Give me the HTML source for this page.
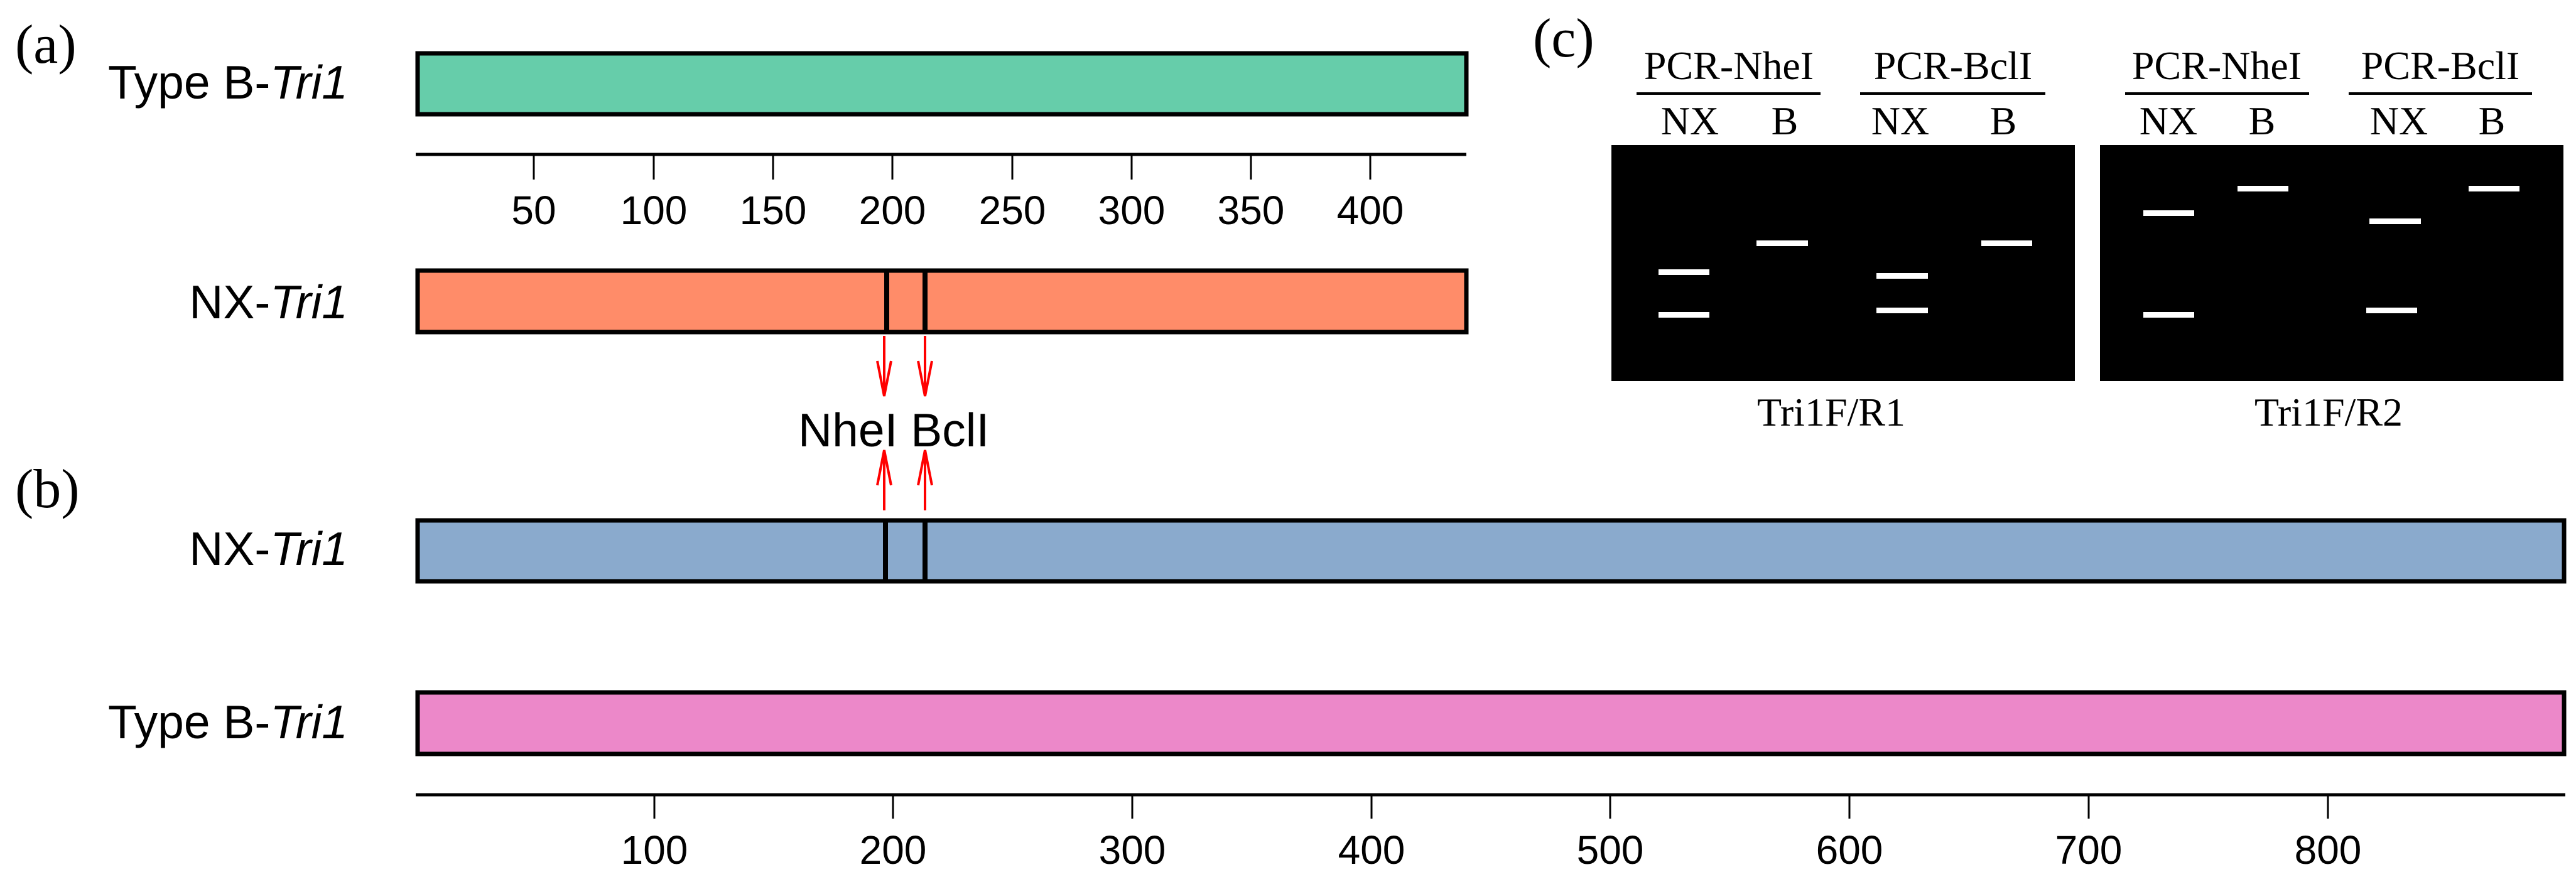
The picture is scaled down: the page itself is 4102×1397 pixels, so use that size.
<!DOCTYPE html>
<html><head><meta charset="utf-8"><style>html,body{margin:0;padding:0;background:#fff}svg{display:block}</style></head>
<body>
<svg width="4102" height="1397" viewBox="0 0 4102 1397" xmlns="http://www.w3.org/2000/svg">
<g font-family="Liberation Serif, serif" fill="#000">
<text x="24" y="100" font-size="88">(a)</text>
<text x="24" y="808" font-size="88">(b)</text>
<text x="2441" y="90" font-size="88">(c)</text>
</g>
<g font-family="Liberation Sans, sans-serif" font-size="75" text-anchor="end" fill="#000">
<text x="554" y="157">Type B-<tspan font-style="italic">Tri1</tspan></text>
<text x="554" y="507">NX-<tspan font-style="italic">Tri1</tspan></text>
<text x="554" y="900">NX-<tspan font-style="italic">Tri1</tspan></text>
<text x="554" y="1176">Type B-<tspan font-style="italic">Tri1</tspan></text>
</g>
<rect x="665" y="85" width="1670" height="97" fill="#66cdaa" stroke="#000" stroke-width="7"/>
<rect x="665" y="431" width="1670" height="98" fill="#ff8c69" stroke="#000" stroke-width="7"/>
<line x1="1412" y1="431" x2="1412" y2="529" stroke="#000" stroke-width="8"/>
<line x1="1473" y1="431" x2="1473" y2="529" stroke="#000" stroke-width="8"/>
<rect x="665" y="829" width="3418" height="97" fill="#8aaacd" stroke="#000" stroke-width="7"/>
<line x1="1410" y1="829" x2="1410" y2="926" stroke="#000" stroke-width="8"/>
<line x1="1473" y1="829" x2="1473" y2="926" stroke="#000" stroke-width="8"/>
<rect x="665" y="1103" width="3418" height="98" fill="#ec88c9" stroke="#000" stroke-width="7"/>
<line x1="662" y1="246" x2="2335" y2="246" stroke="#000" stroke-width="5"/>
<g stroke="#000" stroke-width="3">
<line x1="850" y1="246" x2="850" y2="286"/><line x1="1041" y1="246" x2="1041" y2="286"/><line x1="1231" y1="246" x2="1231" y2="286"/><line x1="1421" y1="246" x2="1421" y2="286"/><line x1="1612" y1="246" x2="1612" y2="286"/><line x1="1802" y1="246" x2="1802" y2="286"/><line x1="1992" y1="246" x2="1992" y2="286"/><line x1="2182" y1="246" x2="2182" y2="286"/>
</g>
<g font-family="Liberation Sans, sans-serif" font-size="64" text-anchor="middle" fill="#000">
<text x="850" y="357">50</text><text x="1041" y="357">100</text><text x="1231" y="357">150</text><text x="1421" y="357">200</text><text x="1612" y="357">250</text><text x="1802" y="357">300</text><text x="1992" y="357">350</text><text x="2182" y="357">400</text>
</g>
<line x1="662" y1="1266" x2="4085" y2="1266" stroke="#000" stroke-width="5"/>
<g stroke="#000" stroke-width="3">
<line x1="1042" y1="1266" x2="1042" y2="1304"/><line x1="1422" y1="1266" x2="1422" y2="1304"/><line x1="1803" y1="1266" x2="1803" y2="1304"/><line x1="2184" y1="1266" x2="2184" y2="1304"/><line x1="2564" y1="1266" x2="2564" y2="1304"/><line x1="2945" y1="1266" x2="2945" y2="1304"/><line x1="3326" y1="1266" x2="3326" y2="1304"/><line x1="3707" y1="1266" x2="3707" y2="1304"/>
</g>
<g font-family="Liberation Sans, sans-serif" font-size="64" text-anchor="middle" fill="#000">
<text x="1042" y="1376">100</text><text x="1422" y="1376">200</text><text x="1803" y="1376">300</text><text x="2184" y="1376">400</text><text x="2564" y="1376">500</text><text x="2945" y="1376">600</text><text x="3326" y="1376">700</text><text x="3707" y="1376">800</text>
</g>
<g stroke="#ff0000" stroke-width="4" fill="none">
<line x1="1408" y1="535" x2="1408" y2="628"/><line x1="1473" y1="535" x2="1473" y2="628"/>
<line x1="1408" y1="720" x2="1408" y2="813"/><line x1="1473" y1="720" x2="1473" y2="813"/>
<polyline points="1397,575 1408,631 1419,575"/><polyline points="1462,575 1473,631 1484,575"/>
<polyline points="1397,773 1408,717 1419,773"/><polyline points="1462,773 1473,717 1484,773"/>
</g>
<text x="1271" y="711" font-family="Liberation Sans, sans-serif" font-size="75" fill="#000">NheI BclI</text>
<rect x="2566" y="231" width="738" height="376" fill="#000"/>
<rect x="3344" y="231" width="738" height="376" fill="#000"/>
<g font-family="Liberation Serif, serif" font-size="64" text-anchor="middle" fill="#000">
<text x="2753" y="126">PCR-NheI</text><text x="3110" y="126">PCR-BclI</text>
<text x="3530" y="126">PCR-NheI</text><text x="3886" y="126">PCR-BclI</text>
<text x="2691" y="214">NX</text><text x="2842" y="214">B</text><text x="3026" y="214">NX</text><text x="3190" y="214">B</text>
<text x="3453" y="214">NX</text><text x="3602" y="214">B</text><text x="3820" y="214">NX</text><text x="3968" y="214">B</text>
<text x="2916" y="678">Tri1F/R1</text><text x="3708" y="678">Tri1F/R2</text>
</g>
<g stroke="#000" stroke-width="4">
<line x1="2606" y1="149" x2="2899" y2="149"/><line x1="2962" y1="149" x2="3257" y2="149"/>
<line x1="3384" y1="149" x2="3677" y2="149"/><line x1="3740" y1="149" x2="4032" y2="149"/>
</g>
<g fill="#fff">
<rect x="2641" y="429" width="81" height="9"/><rect x="2641" y="497" width="81" height="9"/>
<rect x="2797" y="383" width="82" height="9"/>
<rect x="2988" y="435" width="82" height="9"/><rect x="2988" y="490" width="82" height="9"/>
<rect x="3155" y="383" width="81" height="9"/>
<rect x="3413" y="335" width="81" height="9"/><rect x="3413" y="497" width="81" height="9"/>
<rect x="3563" y="296" width="81" height="9"/>
<rect x="3773" y="348" width="82" height="9"/><rect x="3768" y="490" width="81" height="9"/>
<rect x="3931" y="296" width="81" height="9"/>
</g>
</svg>
</body></html>
